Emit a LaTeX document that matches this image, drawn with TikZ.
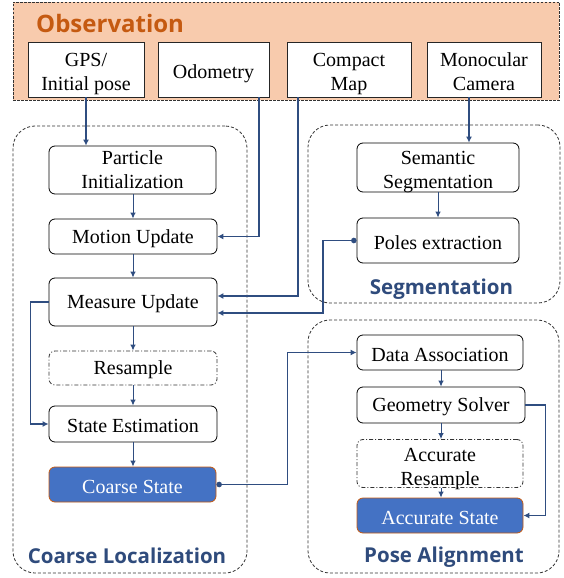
\documentclass[tikz,border=0pt]{standalone}
\usepackage{fontspec}
\setmainfont{Liberation Serif}
\newfontfamily\titlefont{Open Sans}
\usetikzlibrary{arrows.meta}
\definecolor{peach}{HTML}{F8CBAD}
\definecolor{obstitle}{HTML}{C55A11}
\definecolor{navy}{HTML}{2F4B7C}
\definecolor{linec}{HTML}{2F4D80}
\definecolor{stateblue}{HTML}{4472C4}
\definecolor{stateborder}{HTML}{C55A11}
\newcommand\twolines[3]{\raisebox{-#1}[\height][\depth]{\begin{tabular}{@{}c@{}}#2\\#3\end{tabular}}}
\begin{document}
\begin{tikzpicture}[x=1pt,y=-1pt,
 every node/.style={font=\fontsize{20}{24}\selectfont},
 lift/.style={execute at begin node={\rule{0pt}{#1}}},
 obsbox/.style={draw=black!85, line width=0.8pt, fill=white, inner sep=0},
 procbox/.style={draw=black, line width=0.8pt, rounded corners=6pt, fill=white, inner sep=0},
 dashbox/.style={procbox, draw=black!80, dash pattern=on 4pt off 2pt on 1pt off 2pt},
 statebox/.style={procbox, fill=stateblue, draw=stateborder, text=white},
 group/.style={draw=black!80, line width=0.8pt, dash pattern=on 3pt off 2pt, rounded corners=22pt},
 grouptitle/.style={font=\titlefont\bfseries\fontsize{20.5}{24}\selectfont, text=navy, inner sep=0, anchor=base},
 conn/.style={draw=linec, line width=1.3pt},
 arr/.style={conn, -{Latex[length=6pt,width=6pt]}},
 dotarr/.style={conn, {Circle[length=5.5pt]}-{Latex[length=6pt,width=6pt]}},
 smallarr/.style={draw=linec, line width=1pt, -{Latex[length=6pt,width=5.5pt]}},
]
\useasboundingbox (0,0) rectangle (564,578);
\fill[white] (0,0) rectangle (564,578);

% groups
\node[group, fill=peach, rounded corners=0pt, dash pattern=on 2.5pt off 1.5pt, minimum width=546, minimum height=98] (obs) at (286,51) {};
\node[group, minimum width=234, minimum height=447] (coarsegrp) at (130,349.5) {};
\node[group, minimum width=252, minimum height=178] (seggrp) at (434,214) {};
\node[group, minimum width=251, minimum height=253] (posegrp) at (433.5,446.5) {};

% titles
\node[grouptitle, font=\titlefont\bfseries\fontsize{24}{28}\selectfont, text=obstitle, anchor=base west] (obstitle) at (36,33) {Observation};
\node[grouptitle] (coarsetitle) at (127,563) {Coarse Localization};
\node[grouptitle] (segtitle) at (441.5,294) {Segmentation};
\node[grouptitle] (posetitle) at (444,562) {Pose Alignment};

% observation boxes
\node[obsbox, minimum width=116, minimum height=55] (gps) at (86,69.5) {\twolines{4.5pt}{GPS/}{Initial pose}};
\node[obsbox, lift=22pt, minimum width=111, minimum height=55] (odo) at (213.5,69.5) {Odometry};
\node[obsbox, minimum width=124, minimum height=55] (map) at (349,69.5) {\twolines{4.5pt}{Compact}{Map}};
\node[obsbox, minimum width=114, minimum height=55] (mono) at (484,69.5) {\twolines{4pt}{Monocular}{Camera}};

% coarse localization
\node[procbox, minimum width=167, minimum height=44] (part) at (132.5,170) {\twolines{1.5pt}{Particle}{Initialization}};
\node[procbox, lift=18pt, minimum width=168, minimum height=35] (motion) at (133,236.5) {Motion Update};
\node[procbox, lift=18pt, minimum width=168, minimum height=48] (measure) at (133,302) {Measure Update};
\node[dashbox, lift=18pt, minimum width=168, minimum height=34] (resample) at (133,368) {Resample};
\node[procbox, lift=18pt, minimum width=168, minimum height=36] (state) at (133,424) {State Estimation};
\node[statebox, lift=18pt, minimum width=167, minimum height=35] (coarse) at (132.5,484.5) {Coarse State};

% segmentation
\node[procbox, minimum width=162, minimum height=49] (sem) at (438,167.5) {\twolines{4.5pt}{Semantic}{Segmentation}};
\node[procbox, lift=18pt, minimum width=162, minimum height=45] (poles) at (438,240.5) {Poles extraction};

% pose alignment
\node[procbox, lift=18pt, minimum width=166, minimum height=35] (data) at (440,352.5) {Data Association};
\node[procbox, lift=18pt, minimum width=168, minimum height=36] (geo) at (441,405) {Geometry Solver};
\node[dashbox, minimum width=166, minimum height=43] (accres) at (440,463.5) {\twolines{5pt}{Accurate}{Resample}};
\node[statebox, lift=18pt, minimum width=166, minimum height=35] (accstate) at (440,515.5) {Accurate State};

% helper coordinates
\coordinate (odoX) at (259,0);
\coordinate (mapX) at (298,0);
\coordinate (camX) at (469,0);
\coordinate (polesJ) at (323,313);

% column arrows
\draw[smallarr] (part.south -| motion.north) -- (motion.north);
\draw[smallarr] (motion.south) -- (measure.north);
\draw[smallarr] (measure.south) -- (resample.north);
\draw[smallarr] (resample.south) -- (state.north);
\draw[smallarr] (state.south) -- (state.south |- coarse.north);
\draw[smallarr] (sem.south) -- (poles.north);
\draw[smallarr] (data.south -| geo.south) -- (geo.south |- geo.north);
\draw[smallarr] (geo.south) -- (geo.south |- accres.north);
\draw[smallarr] (geo.south |- accres.south) -- (geo.south |- accstate.north);

% connectors
\draw[arr] (gps.south) -- (gps.south |- part.north);
\draw[arr] (odo.south -| odoX) |- (motion.east);
\draw[arr] (map.south -| mapX) |- ([yshift=6pt]measure.east);
\draw[arr] (mono.south -| camX) -- (camX |- sem.north);
\draw[dotarr] (poles.west) -| (polesJ) -- (polesJ -| measure.east);
\draw[arr] (measure.west) -- ++(-18,0) |- (state.west);
\draw[dotarr] (coarse.east) -- ++(71,0) |- (data.west);
\draw[arr] (geo.east) -- ++(20,0) |- (accstate.east);
\end{tikzpicture}
\end{document}
